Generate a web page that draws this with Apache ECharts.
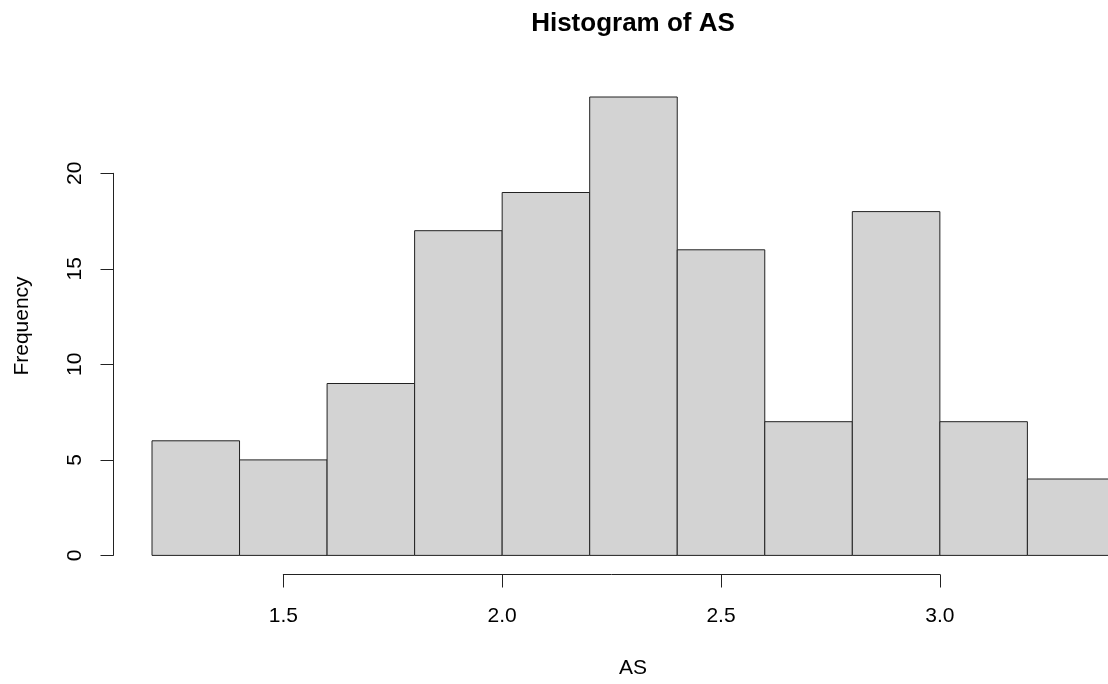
<!DOCTYPE html>
<html>
<head>
<meta charset="utf-8">
<title>Histogram of AS</title>
<script src="https://cdn.jsdelivr.net/npm/echarts@6/dist/echarts.min.js"></script>
<style>
  html, body { margin: 0; padding: 0; background: #fff; }
  #main { width: 1108px; height: 684px; }
</style>
</head>
<body>
<div id="main"></div>
<script>
// data
var binEdges = [1.2, 1.4, 1.6, 1.8, 2.0, 2.2, 2.4, 2.6, 2.8, 3.0, 3.2, 3.4];
var counts = [6, 5, 9, 17, 19, 24, 16, 7, 18, 7, 4];
var xTicks = [1.5, 2.0, 2.5, 3.0];
var yTicks = [0, 5, 10, 15, 20];

var FONT = '"Liberation Sans", Arial, sans-serif';
var INK = '#222';

var bins = [];
for (var i = 0; i < counts.length; i++) {
    bins.push([binEdges[i], binEdges[i + 1], counts[i]]);
}

// the plot runs past the right edge of the picture, the grid can't, so
// the bar grid stops at the edge and its max is cut to match (437.7 px/unit)
var PX_PER_UNIT = 437.7;
var BAR_LEFT = 152;
var xCut = binEdges[0] + (1108 - BAR_LEFT) / PX_PER_UNIT;

var chart = echarts.init(document.getElementById('main'), null, { renderer: 'canvas' });

chart.setOption({
    animation: false,
    backgroundColor: '#fff',
    textStyle: { fontFamily: FONT },
    grid: [
        // bars
        { left: BAR_LEFT, top: 97, width: 1108 - BAR_LEFT, height: 458.4 },
        // x axis (1.5 .. 3.0)
        { left: 283.3, top: 560, width: 656.6, height: 14.5 },
        // y axis (0 .. 20)
        { left: 113.5, top: 173.3, width: 10, height: 382 }
    ],
    xAxis: [
        { gridIndex: 0, type: 'value', min: binEdges[0], max: xCut, show: false },
        {
            gridIndex: 1, type: 'value', position: 'bottom',
            min: xTicks[0], max: xTicks[xTicks.length - 1], interval: 0.5,
            splitLine: { show: false },
            axisLine: { show: true, lineStyle: { color: INK, width: 1 } },
            axisTick: { show: true, length: 13, lineStyle: { color: INK } },
            axisLabel: {
                show: true, margin: 31, color: '#000', fontSize: 21, fontFamily: FONT,
                formatter: function (v) { return v.toFixed(1); }
            }
        },
        { gridIndex: 2, type: 'value', show: false }
    ],
    yAxis: [
        { gridIndex: 0, type: 'value', min: 0, max: 24, show: false },
        { gridIndex: 1, type: 'value', show: false },
        {
            gridIndex: 2, type: 'value', position: 'left',
            min: yTicks[0], max: yTicks[yTicks.length - 1], interval: 5,
            splitLine: { show: false },
            axisLine: { show: true, lineStyle: { color: INK, width: 1 } },
            axisTick: { show: true, length: 13, lineStyle: { color: INK } },
            axisLabel: {
                show: true, rotate: 90, margin: 28, color: '#000', fontSize: 21, fontFamily: FONT
            }
        }
    ],
    graphic: [
        {
            type: 'text', x: 633, y: 24,
            style: {
                text: 'Histogram of AS', fill: '#000', font: 'bold 26px ' + FONT,
                textAlign: 'center', textVerticalAlign: 'middle'
            }
        },
        {
            type: 'text', x: 633, y: 668,
            style: {
                text: 'AS', fill: '#000', font: '21px ' + FONT,
                textAlign: 'center', textVerticalAlign: 'middle'
            }
        },
        {
            type: 'text', x: 22, y: 326, rotation: Math.PI / 2,
            style: {
                text: 'Frequency', fill: '#000', font: '21px ' + FONT,
                textAlign: 'center', textVerticalAlign: 'middle'
            }
        }
    ],
    series: [{
        type: 'custom',
        xAxisIndex: 0,
        yAxisIndex: 0,
        clip: false,
        data: bins,
        renderItem: function (params, api) {
            var top = api.coord([api.value(0), api.value(2)]);
            var base = api.coord([api.value(1), 0]);
            return {
                type: 'rect',
                shape: { x: top[0], y: top[1], width: base[0] - top[0], height: base[1] - top[1] },
                style: { fill: '#D3D3D3', stroke: INK, lineWidth: 1 }
            };
        }
    }]
});
</script>
</body>
</html>
